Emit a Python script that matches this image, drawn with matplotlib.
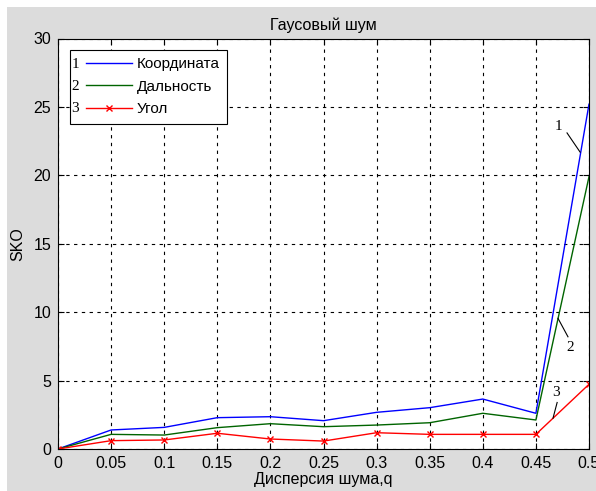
"""Gaussian noise SKO chart (MATLAB-style look)."""

import matplotlib
matplotlib.use("Agg")
import matplotlib.pyplot as plt
from matplotlib.patches import Rectangle
from matplotlib.legend_handler import HandlerLine2D

# data
dispersion = [0, 0.05, 0.1, 0.15, 0.2, 0.25, 0.3, 0.35, 0.4, 0.45, 0.5]
sko_coord = [0, 1.39, 1.58, 2.29, 2.36, 2.07, 2.68, 3.02, 3.65, 2.61, 25.2]
sko_range = [0, 1.07, 1.02, 1.56, 1.85, 1.63, 1.75, 1.92, 2.61, 2.12, 19.9]
sko_angle = [0, 0.61, 0.66, 1.15, 0.73, 0.58, 1.19, 1.07, 1.07, 1.07, 4.73]
labels = ["Координата", "Дальность", "Угол"]
xticks = [0, 0.05, 0.1, 0.15, 0.2, 0.25, 0.3, 0.35, 0.4, 0.45, 0.5]
xtick_labels = ["0", "0.05", "0.1", "0.15", "0.2", "0.25", "0.3", "0.35", "0.4", "0.45", "0.5"]
yticks = [0, 5, 10, 15, 20, 25, 30]

plt.rcParams["font.family"] = ["Liberation Sans", "DejaVu Sans"]

W, H = 596, 491
fig = plt.figure(figsize=(W / 100, H / 100), dpi=100)
fig.patch.set_facecolor("white")
# grey MATLAB figure area, small white strip on top/left
fig.patches.append(Rectangle((7 / W, 0), 1, 1 - 7 / H, transform=fig.transFigure,
                             facecolor="#dcdcdc", edgecolor="none", zorder=-10))

ax = fig.add_axes([58 / W, 1 - 449 / H, 531 / W, 410.5 / H])
ax.set_facecolor("white")

ax.plot(dispersion, sko_coord, color="#0000ff", lw=1, label=labels[0])
ax.plot(dispersion, sko_range, color="#006400", lw=1, label=labels[1])
ax.plot(dispersion, sko_angle, color="#ff0000", lw=1, marker="x", ms=5,
        mew=1, label=labels[2])

ax.set_xlim(0, 0.5)
ax.set_ylim(0, 30)
ax.set_xticks(xticks)
ax.set_xticklabels(xtick_labels)
ax.set_yticks(yticks)
ax.tick_params(direction="in", top=True, right=True, length=4, width=0.8,
               labelsize=11.5, colors="black", pad=5)
ax.grid(True, color="black", linestyle=(0, (3, 4)), linewidth=0.8)
for s in ax.spines.values():
    s.set_color("black")
    s.set_linewidth(0.8)

ax.set_title("Гаусовый шум", fontsize=11.5, pad=6)
ax.set_xlabel("Дисперсия шума,q", fontsize=11.5, labelpad=1)
ax.set_ylabel("SKO", fontsize=11.5, labelpad=6)

# legend, with room on the left of each handle for a number
handler = HandlerLine2D(xpad=0.6)
leg = ax.legend(loc="upper left", bbox_to_anchor=(11.5 / 531, 1 - 11 / 410.5),
                fontsize=11, frameon=True, fancybox=False, edgecolor="black",
                framealpha=1, handlelength=3.6, handletextpad=0.3,
                borderpad=0.5, labelspacing=0.55, borderaxespad=0,
                handler_map={l: handler for l in ax.get_lines()})
leg.get_frame().set_linewidth(0.8)

# numbers 1-3 in front of the legend handles, aligned with each row
fig.canvas.draw()
inv = ax.transAxes.inverted()
for num, t in zip(["1", "2", "3"], leg.get_texts()):
    bb = t.get_window_extent()
    xa, ya = inv.transform((0, (bb.y0 + bb.y1) / 2))
    ax.text((75.5 - 58) / 531, ya, num, transform=ax.transAxes,
            ha="center", va="center", fontsize=11, family="Liberation Serif",
            zorder=10)

# curve number callouts: (label, label pos, leader start, leader end)
callouts = [
    ("1", (0.4708, 23.6), (0.4793, 23.1), (0.4916, 21.7)),
    ("2", (0.4821, 7.4), (0.4802, 8.2), (0.4708, 9.55)),
    ("3", (0.4685, 4.1), (0.4700, 3.4), (0.4661, 2.25)),
]
for txt, tpos, p0, p1 in callouts:
    ax.text(tpos[0], tpos[1], txt, fontsize=11, family="Liberation Serif",
            ha="center", va="center")
    ax.plot([p0[0], p1[0]], [p0[1], p1[1]], color="black", lw=0.8)

fig.savefig("out.png", dpi=100, facecolor=fig.get_facecolor())
